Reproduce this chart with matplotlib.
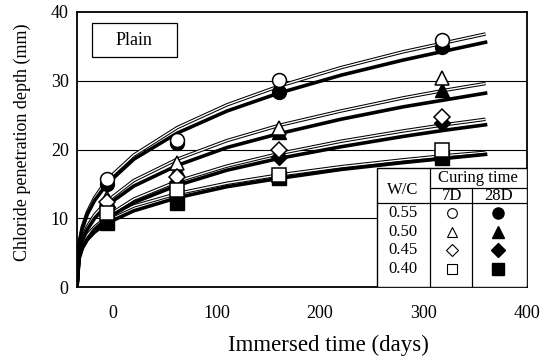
import matplotlib
matplotlib.use("Agg")
import matplotlib.pyplot as plt
from matplotlib.patches import Rectangle

plt.rcParams['font.family'] = 'Liberation Serif'

# fitted penetration curves, sampled along the immersion time axis
curve_days = [-35, -33, -30, -25, -18, -6, 20, 62, 110, 160, 220, 280, 320, 360]
curve_7d_055 = [0, 6.4, 8.7, 10.9, 13.0, 15.6, 19.2, 23.2, 26.5, 29.2, 31.9, 34.2, 35.5, 36.8]
curve_28d_055 = [0, 6.2, 8.4, 10.6, 12.6, 15.0, 18.6, 22.4, 25.6, 28.2, 30.8, 33.0, 34.3, 35.6]
curve_7d_050 = [0, 5.2, 7.0, 8.8, 10.5, 12.5, 15.5, 18.6, 21.3, 23.5, 25.6, 27.5, 28.6, 29.6]
curve_28d_050 = [0, 4.9, 6.7, 8.4, 10.0, 11.9, 14.7, 17.7, 20.3, 22.3, 24.4, 26.2, 27.2, 28.2]
curve_7d_045 = [0, 4.3, 5.8, 7.3, 8.7, 10.3, 12.8, 15.4, 17.6, 19.4, 21.2, 22.7, 23.6, 24.4]
curve_28d_045 = [0, 4.1, 5.6, 7.0, 8.4, 10.0, 12.3, 14.8, 17.0, 18.7, 20.4, 21.9, 22.8, 23.6]
curve_7d_040 = [0, 5.0, 6.3, 7.6, 8.7, 10.0, 11.8, 13.6, 15.1, 16.3, 17.5, 18.5, 19.1, 19.6]
curve_28d_040 = [0, 4.4, 5.7, 6.9, 8.0, 9.3, 11.1, 13.0, 14.6, 15.8, 17.1, 18.1, 18.7, 19.3]

# measured depths
test_days = [-6, 62, 160, 318]
depth_7d_055 = [15.7, 21.4, 30.1, 35.9]
depth_7d_050 = [12.9, 18.0, 23.1, 30.4]
depth_7d_045 = [12.4, 16.0, 19.9, 24.7]
depth_7d_040 = [10.8, 14.1, 16.3, 19.9]
depth_28d_055 = [15.0, 21.0, 28.3, 34.9]
depth_28d_050 = [12.2, 17.2, 22.5, 28.6]
depth_28d_045 = [11.6, 15.3, 18.9, 23.8]
depth_28d_040 = [9.3, 12.2, 15.9, 18.7]

wc_labels = ['0.55', '0.50', '0.45', '0.40']
markers = ['o', '^', 'D', 's']
marker_sizes = [10, 10, 8, 9.5]

curves_7d = [curve_7d_055, curve_7d_050, curve_7d_045, curve_7d_040]
curves_28d = [curve_28d_055, curve_28d_050, curve_28d_045, curve_28d_040]
depths_7d = [depth_7d_055, depth_7d_050, depth_7d_045, depth_7d_040]
depths_28d = [depth_28d_055, depth_28d_050, depth_28d_045, depth_28d_040]

fig = plt.figure(figsize=(5.5, 3.63), dpi=100)
ax = fig.add_axes([0.14, 0.209, 0.818, 0.758])

for c7, c28 in zip(curves_7d, curves_28d):
    # 7D curves: hollow line (black edge, white core)
    ax.plot(curve_days, c7, color='black', lw=2.5, zorder=2, solid_capstyle='butt')
    ax.plot(curve_days, c7, color='white', lw=1.0, zorder=2.1, solid_capstyle='butt')
    # 28D curves: heavy solid line
    ax.plot(curve_days, c28, color='black', lw=2.6, zorder=2.2)

for m, ms, d7, d28 in zip(markers, marker_sizes, depths_7d, depths_28d):
    ax.plot(test_days, d28, ls='none', marker=m, ms=ms, mfc='black', mec='black', zorder=3)
    ax.plot(test_days, d7, ls='none', marker=m, ms=ms, mfc='white', mec='black', mew=1.1, zorder=4)

ax.set_xlim(-35, 400)
ax.set_ylim(0, 40)
ax.set_xticks([0, 100, 200, 300, 400])
ax.set_xticks([100, 200, 300], minor=True)
ax.set_yticks([0, 10, 20, 30, 40])
ax.tick_params(axis='x', which='major', length=0, pad=13, labelsize=13)
ax.tick_params(axis='x', which='minor', direction='in', length=4, width=0.8)
ax.tick_params(axis='y', length=0, pad=6, labelsize=13)
for v in [10, 20, 30]:
    ax.axhline(v, color='black', lw=0.8, zorder=0)
for s in ax.spines.values():
    s.set_linewidth(1.3)

ax.set_xlabel('Immersed time (days)', fontsize=16.5)
ax.xaxis.set_label_coords(0.558, -0.21)
ax.xaxis.label.set_verticalalignment('center')
ax.set_ylabel('Chloride penetration depth (mm)', fontsize=13)
ax.yaxis.set_label_coords(-0.122, 0.527)
ax.yaxis.label.set_verticalalignment('center')

# "Plain" label box
ax.add_patch(Rectangle((0.033, 0.836), 0.189, 0.124, transform=ax.transAxes,
                       fill=False, ec='black', lw=0.9, zorder=5))
ax.text(0.127, 0.898, 'Plain', transform=ax.transAxes, ha='center', va='center',
        fontsize=13, zorder=5)

# key table in the lower right corner
tr = ax.transAxes
x0, x1, x2, x3 = 0.667, 0.784, 0.878, 1.0
y_top, y_mid, y_head = 0.433, 0.36, 0.305
ax.add_patch(Rectangle((x0, 0), x3 - x0, y_top, transform=tr, fc='white',
                       ec='black', lw=1.0, zorder=6))
line_kw = dict(transform=tr, color='black', lw=0.9, zorder=7)
ax.plot([x1, x1], [0, y_top], **line_kw)
ax.plot([x2, x2], [0, y_mid], **line_kw)
ax.plot([x1, x3], [y_mid, y_mid], **line_kw)
ax.plot([x0, x3], [y_head, y_head], **line_kw)

ax.text(0.724, 0.353, 'W/C', transform=tr, ha='center', va='center', fontsize=12, zorder=7)
ax.text(0.891, 0.398, 'Curing time', transform=tr, ha='center', va='center', fontsize=12, zorder=7)
ax.text(0.833, 0.331, '7D', transform=tr, ha='center', va='center', fontsize=12, zorder=7)
ax.text(0.936, 0.331, '28D', transform=tr, ha='center', va='center', fontsize=12, zorder=7)

row_y = [0.269, 0.2, 0.135, 0.065]
for lab, m, ry in zip(wc_labels, markers, row_y):
    ax.text(0.724, ry, lab, transform=tr, ha='center', va='center', fontsize=12, zorder=7)
    ax.plot([0.833], [ry], transform=tr, marker=m, ms=7 if m != 'D' else 6, mfc='white',
            mec='black', mew=0.8, ls='none', zorder=7)
    ax.plot([0.936], [ry], transform=tr, marker=m, ms=8 if m != 'D' else 7, mfc='black',
            mec='black', ls='none', zorder=7)

fig.savefig('out.png', dpi=100)
